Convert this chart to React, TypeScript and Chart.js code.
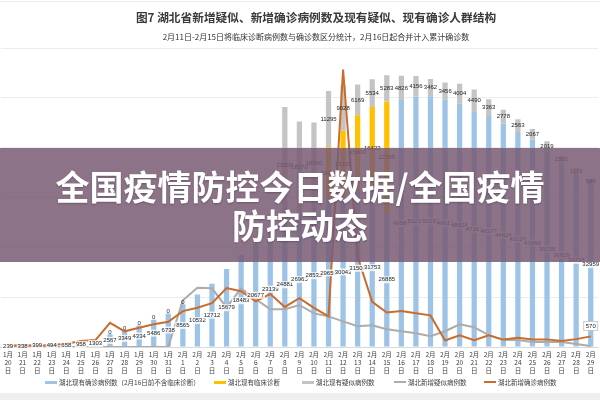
import React, { useEffect, useRef } from "react";
import { Chart, registerables } from "chart.js";

Chart.register(...registerables);

// Dates from 1月20日 to 2月29日
const categories = [
  "1月20日", "1月21日", "1月22日", "1月23日", "1月24日", "1月25日", "1月26日", "1月27日",
  "1月28日", "1月29日", "1月30日", "1月31日", "2月1日", "2月2日", "2月3日", "2月4日",
  "2月5日", "2月6日", "2月7日", "2月8日", "2月9日", "2月10日", "2月11日", "2月12日",
  "2月13日", "2月14日", "2月15日", "2月16日", "2月17日", "2月18日", "2月19日", "2月20日",
  "2月21日", "2月22日", "2月23日", "2月24日", "2月25日", "2月26日", "2月27日", "2月28日",
  "2月29日",
];

// 湖北现有确诊病例数（2月16日前不含临床诊断）
const existingConfirmed = [
  239, 338, 399, 494, 658, 958, 1303, 2567, 3349, 4334, 5486, 6738, 8565, 10532, 12712, 15679,
  18483, 20677, 23139, 24881, 26965, 28532, 29659, 30043, 31500, 31753, 26885, 49584, 50233, 50338,
  49613, 48824, 47161, 46377, 44824, 43129, 41660, 39255, 36829, 34715, 32959,
];

// 湖北现有临床诊断
const existingClinical = [
  null, null, null, null, null, null, null, null, null, null, null, null, null, null, null, null,
  null, null, null, null, null, null, 10417, 13332, 15000, 16423, 22385, null, null, null,
  null, null, null, null, null, null, null, null, null, null, null,
];

// 湖北现有疑似病例数
const existingSuspected = [
  null, null, null, null, null, null, null, 0, 0, 0, 0, 0, 0, null, null, null,
  null, null, null, 23300, 18270, 16500, 11295, 9028, 6169, 5534, 5283, 4826, 4156, 3462,
  3456, 4004, 4490, 3363, 2778, 2563, 2067, 2019, 1501, 1171, 686,
];

// 湖北新增疑似病例数
const newSuspected = [
  0, 0, 0, 0, 0, 0, 0, 0, 0, 0, 0, 0, 2500, 3175, 3140, 2116,
  3140, 2556, 2027, 2027, 2250, 1800, 1640, 1375, 1111, 1164, 952, 846, 740, 582,
  846, 1217, 1058, 635, 370, 370, 265, 265, 265, 160, 50,
];

// 湖北新增确诊病例数
const newConfirmed = [
  72, 105, 69, 105, 180, 323, 371, 1291, 840, 1032, 1220, 1347, 1921, 2103, 2345, 3156,
  2987, 2447, 2841, 2147, 2618, 2097, 1638, 14840, 4823, 2420, 1843, 1933, 1807, 1693,
  349, 631, 366, 630, 398, 499, 401, 409, 318, 423, 570,
];

const seriesNames = [
  "湖北现有确诊病例数（2月16日前不含临床诊断）",
  "湖北现有临床诊断",
  "湖北现有疑似病例数",
  "湖北新增疑似病例数",
  "湖北新增确诊病例数",
];

const titleText = "图7 湖北省新增疑似、新增确诊病例数及现有疑似、现有确诊人群结构";
const subtitleText = "2月11日-2月15日将临床诊断病例数与确诊数区分统计，2月16日起合并计入累计确诊数";
const bannerLines = ["全国疫情防控今日数据/全国疫情", "防控动态"];

const COLORS = {
  blue: "#9dc3e6",
  yellow: "#ffc000",
  grayBar: "#c4c4c4",
  grayLine: "#acacac",
  orange: "#c96c2c",
};

const FONT = "'Noto Sans CJK SC', 'Liberation Sans', sans-serif";

// Stacked tick text: month, day and 日 on separate rows
const tickRows = (label: string) => {
  const m = label.match(/(\d+)月(\d+)日/);
  if (!m) return label;
  return [m[1] + "月", m[2], "日"];
};

// Value labels centred in each bar segment, plus the last new-confirmed value
const valueLabels = {
  id: "valueLabels",
  afterDatasetsDraw(chart: any) {
    const ctx = chart.ctx as CanvasRenderingContext2D;
    ctx.save();
    ctx.font = "6px 'Liberation Sans', sans-serif";
    ctx.textAlign = "center";
    ctx.textBaseline = "middle";
    [0, 1, 2].forEach((di) => {
      const meta = chart.getDatasetMeta(di);
      const data = chart.data.datasets[di].data;
      meta.data.forEach((el: any, i: number) => {
        const v = data[i];
        if (v == null) return;
        const { x, y, base } = el.getProps(["x", "y", "base"], true);
        const cy = v === 0 ? y - 2 : (y + base) / 2;
        const text = String(v);
        if (di === 0) {
          const w = ctx.measureText(text).width + 2;
          ctx.fillStyle = "rgba(255,255,255,0.8)";
          ctx.fillRect(x - w / 2, cy - 3.5, w, 7);
        }
        ctx.fillStyle = "#262626";
        ctx.fillText(text, x, cy);
      });
    });
    const lineMeta = chart.getDatasetMeta(4);
    const last = lineMeta.data[lineMeta.data.length - 1];
    if (last) {
      const text = String(newConfirmed[newConfirmed.length - 1]);
      const w = ctx.measureText(text).width + 4;
      const bx = last.x - w / 2;
      const by = last.y - 15;
      ctx.fillStyle = "#ffffff";
      ctx.fillRect(bx, by, w, 9);
      ctx.strokeStyle = "#bfbfbf";
      ctx.lineWidth = 0.8;
      ctx.strokeRect(bx, by, w, 9);
      ctx.fillStyle = "#262626";
      ctx.fillText(text, last.x, by + 4.5);
    }
    ctx.restore();
  },
};

const legendItems = [
  { name: seriesNames[0], color: COLORS.blue, left: 45, h: 3 },
  { name: seriesNames[1], color: COLORS.yellow, left: 214, h: 3 },
  { name: seriesNames[2], color: COLORS.grayBar, left: 302, h: 3 },
  { name: seriesNames[3], color: COLORS.grayLine, left: 394, h: 1.5 },
  { name: seriesNames[4], color: COLORS.orange, left: 484, h: 2 },
];

export default function App() {
  const canvasRef = useRef<HTMLCanvasElement>(null);

  useEffect(() => {
    const canvas = canvasRef.current;
    if (!canvas) return;
    const chart = new Chart(canvas, {
      type: "bar",
      data: {
        labels: categories,
        datasets: [
          {
            type: "bar",
            label: seriesNames[0],
            data: existingConfirmed,
            backgroundColor: COLORS.blue,
            yAxisID: "y",
            order: 2,
            categoryPercentage: 1,
            barPercentage: 0.36,
          },
          {
            type: "bar",
            label: seriesNames[1],
            data: existingClinical,
            backgroundColor: COLORS.yellow,
            yAxisID: "y",
            order: 2,
            categoryPercentage: 1,
            barPercentage: 0.36,
          },
          {
            type: "bar",
            label: seriesNames[2],
            data: existingSuspected,
            backgroundColor: COLORS.grayBar,
            yAxisID: "y",
            order: 2,
            categoryPercentage: 1,
            barPercentage: 0.36,
          },
          {
            type: "line",
            label: seriesNames[3],
            data: newSuspected,
            borderColor: COLORS.grayLine,
            backgroundColor: COLORS.grayLine,
            borderWidth: 2,
            pointRadius: 0,
            tension: 0,
            yAxisID: "y2",
            order: 1,
          },
          {
            type: "line",
            label: seriesNames[4],
            data: newConfirmed,
            borderColor: COLORS.orange,
            backgroundColor: COLORS.orange,
            borderWidth: 2,
            pointRadius: 0,
            tension: 0,
            yAxisID: "y2",
            order: 0,
          },
        ] as any,
      },
      options: {
        responsive: false,
        animation: false,
        devicePixelRatio: 1,
        font: { family: FONT },
        layout: { padding: { left: 0, right: 2, top: 48, bottom: 22.6 } },
        scales: {
          x: {
            stacked: true,
            grid: { display: false, drawTicks: false },
            border: { color: "#d9d9d9" },
            ticks: {
              autoSkip: false,
              maxRotation: 0,
              minRotation: 0,
              padding: 3,
              color: "#404040",
              font: { family: FONT, size: 6.5, lineHeight: 1.25 },
              callback: function (this: any, value: any) {
                return tickRows(this.getLabelForValue(value));
              },
            },
          },
          y: {
            stacked: true,
            min: 0,
            max: 60000,
            ticks: { display: false, stepSize: 10000 },
            grid: { color: "#ececec", drawTicks: false },
            border: { display: false },
          },
          y2: {
            position: "right",
            min: 0,
            max: 16000,
            display: false,
          },
        },
        plugins: {
          legend: { display: false },
          title: { display: false },
          tooltip: { enabled: false },
        },
      },
      plugins: [valueLabels],
    } as any);
    return () => chart.destroy();
  }, []);

  return (
    <div
      style={{
        position: "fixed",
        left: 0,
        top: 0,
        width: 600,
        height: 400,
        background: "#ffffff",
        overflow: "hidden",
        fontFamily: FONT,
      }}
    >
      <canvas ref={canvasRef} width={600} height={400} style={{ display: "block" }} />
      <div style={{ position: "absolute", left: 0, top: 1, width: 600, height: 1, background: "#eeeeee" }} />
      <div
        style={{
          position: "absolute",
          left: 316 - 250,
          top: 9,
          width: 500,
          textAlign: "center",
          fontSize: 11.7,
          fontWeight: 700,
          color: "#3a3a3a",
          lineHeight: "16px",
          whiteSpace: "nowrap",
        }}
      >
        {titleText}
      </div>
      <div
        style={{
          position: "absolute",
          left: 316 - 250,
          top: 32,
          width: 500,
          textAlign: "center",
          fontSize: 8,
          color: "#333333",
          lineHeight: "10px",
          whiteSpace: "nowrap",
        }}
      >
        {subtitleText}
      </div>
      {legendItems.map((it) => (
        <div
          key={it.name}
          style={{
            position: "absolute",
            left: it.left,
            top: 377,
            height: 10,
            display: "flex",
            alignItems: "center",
            whiteSpace: "nowrap",
            fontSize: 6.5,
            color: "#404040",
          }}
        >
          <span style={{ display: "inline-block", width: 12, height: it.h, background: it.color, marginRight: 2 }} />
          <span>{it.name}</span>
        </div>
      ))}
      <div style={{ position: "absolute", left: 0, top: 393, width: 600, height: 7, background: "#efefef" }} />
      <div
        style={{
          position: "absolute",
          left: 0,
          top: 148,
          width: 600,
          height: 114,
          background: "rgba(120, 90, 115, 0.85)",
          display: "flex",
          flexDirection: "column",
          alignItems: "center",
          justifyContent: "center",
          color: "#ffffff",
          fontFamily: "'Noto Sans CJK SC', sans-serif",
          fontWeight: 700,
          fontSize: 34,
          lineHeight: "39px",
          textShadow: "0 1px 2px rgba(0,0,0,0.25)",
        }}
      >
        {bannerLines.map((t) => (
          <div key={t}>{t}</div>
        ))}
      </div>
    </div>
  );
}
